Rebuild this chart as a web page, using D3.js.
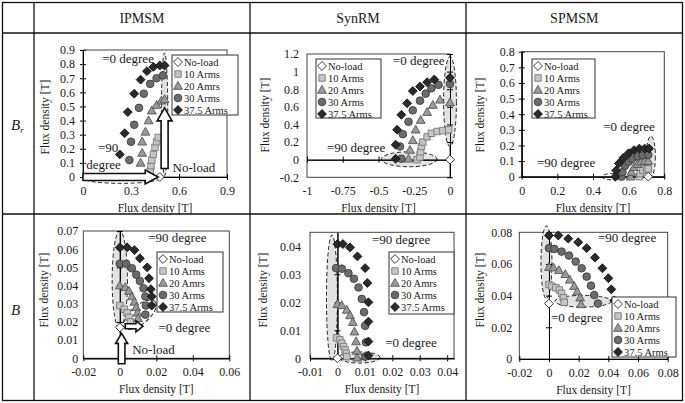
<!DOCTYPE html>
<html>
<head>
<meta charset="utf-8">
<script src="https://cdn.jsdelivr.net/npm/d3@7"></script>
<style>body{margin:0;background:#fff}</style>
</head>
<body>
<div id="chart"></div>
<script>
// ---- data ----
const columns = ["IPMSM", "SynRM", "SPMSM"];
const seriesNames = ["No-load", "10 Arms", "20 Amrs", "30 Arms", "37.5 Arms"];

// each panel: [No-load, 10 Arms, 20 Arms, 30 Arms, 37.5 Arms], points are [x, y] in T
const ipmsmBr = [
    [[0.48, 0]],
    [[0.42, 0.01], [0.42, 0.04], [0.425, 0.08], [0.43, 0.12], [0.44, 0.16], [0.45, 0.21], [0.46, 0.25], [0.47, 0.28]],
    [[0.36, 0.1], [0.37, 0.17], [0.37, 0.25], [0.39, 0.32], [0.41, 0.40], [0.43, 0.47], [0.46, 0.51], [0.49, 0.54], [0.51, 0.55]],
    [[0.29, 0.12], [0.30, 0.25], [0.32, 0.37], [0.35, 0.49], [0.38, 0.59], [0.42, 0.66], [0.46, 0.70], [0.50, 0.72]],
    [[0.23, 0.16], [0.26, 0.31], [0.28, 0.46], [0.32, 0.59], [0.36, 0.69], [0.40, 0.75], [0.44, 0.78], [0.48, 0.79], [0.51, 0.79]]
];
const synrmBr = [
    [[0, 0]],
    [[-0.23, 0], [-0.21, 0.03], [-0.205, 0.09], [-0.2, 0.15], [-0.19, 0.2], [-0.16, 0.26], [-0.13, 0.30], [-0.09, 0.32], [-0.05, 0.33], [-0.01, 0.34]],
    [[-0.29, 0.01], [-0.28, 0.11], [-0.26, 0.22], [-0.24, 0.34], [-0.205, 0.45], [-0.16, 0.54], [-0.12, 0.62], [-0.07, 0.68], [0, 0.65]],
    [[-0.34, 0.01], [-0.35, 0.15], [-0.33, 0.29], [-0.29, 0.43], [-0.26, 0.56], [-0.21, 0.67], [-0.17, 0.75], [-0.13, 0.81], [-0.08, 0.85], [0, 0.86]],
    [[-0.38, 0.01], [-0.38, 0.17], [-0.37, 0.34], [-0.34, 0.51], [-0.30, 0.64], [-0.26, 0.78], [-0.21, 0.83], [-0.16, 0.88], [-0.11, 0.91], [0, 0.93]]
];
const spmsmBr = [
    [[0.71, 0]],
    [[0.66, 0], [0.665, 0.02], [0.68, 0.04], [0.70, 0.05], [0.71, 0.05]],
    [[0.61, 0], [0.615, 0.03], [0.63, 0.06], [0.65, 0.08], [0.67, 0.095], [0.69, 0.10], [0.71, 0.10]],
    [[0.56, 0], [0.565, 0.03], [0.58, 0.07], [0.60, 0.095], [0.62, 0.115], [0.65, 0.13], [0.68, 0.137], [0.71, 0.14]],
    [[0.525, 0], [0.53, 0.04], [0.545, 0.085], [0.57, 0.12], [0.60, 0.15], [0.63, 0.17], [0.66, 0.18], [0.69, 0.18], [0.715, 0.18]]
];
const ipmsmB = [
    [[0, 0.017]],
    [[0, 0.029], [0.0025, 0.027], [0.004, 0.025], [0.005, 0.0225], [0.0058, 0.020]],
    [[0, 0.040], [0.003, 0.039], [0.005, 0.037], [0.0066, 0.034], [0.008, 0.031], [0.009, 0.028], [0.0097, 0.025], [0.010, 0.022]],
    [[0, 0.052], [0.0035, 0.052], [0.0066, 0.0495], [0.009, 0.046], [0.011, 0.0425], [0.013, 0.0385], [0.014, 0.034], [0.0143, 0.029], [0.014, 0.024]],
    [[0, 0.061], [0.004, 0.061], [0.008, 0.0595], [0.011, 0.055], [0.015, 0.050], [0.016, 0.044], [0.017, 0.038], [0.0175, 0.034], [0.0175, 0.029]]
];
const synrmB = [
    [[0, 0]],
    [[-0.0003, 0.0073], [0.0009, 0.0066], [0.0016, 0.0054], [0.0022, 0.0042], [0.0028, 0.003], [0.0032, 0.0018], [0.0034, 0.0006]],
    [[0, 0.0193], [0.0016, 0.0189], [0.0034, 0.0173], [0.0046, 0.0153], [0.0056, 0.0129], [0.0062, 0.0095], [0.0068, 0.006], [0.0071, 0.0026], [0.0072, 0.0002]],
    [[-0.0005, 0.0322], [0.0016, 0.032], [0.004, 0.0304], [0.006, 0.0284], [0.0077, 0.0253], [0.0089, 0.0212], [0.0097, 0.0165], [0.0101, 0.0116], [0.0104, 0.0057], [0.0101, 0.0006]],
    [[0, 0.0408], [0.002, 0.0408], [0.0046, 0.0396], [0.0073, 0.0364], [0.0101, 0.0322], [0.0109, 0.0269], [0.0113, 0.020], [0.0113, 0.0131], [0.0113, 0.006], [0.0113, 0.001]]
];
const spmsmB = [
    [[0, 0.035]],
    [[0, 0.047], [0.002, 0.046], [0.0047, 0.045], [0.007, 0.0436], [0.0085, 0.0415], [0.0097, 0.0387], [0.0103, 0.0358]],
    [[0, 0.058], [0.003, 0.0577], [0.0067, 0.056], [0.011, 0.0535], [0.014, 0.050], [0.017, 0.046], [0.019, 0.0425], [0.021, 0.0387], [0.0216, 0.0345]],
    [[0, 0.070], [0.0036, 0.0695], [0.0085, 0.0678], [0.0135, 0.0653], [0.018, 0.0615], [0.022, 0.0573], [0.0254, 0.052], [0.0283, 0.0463], [0.0305, 0.0404], [0.033, 0.035]],
    [[0, 0.078], [0.0063, 0.078], [0.013, 0.076], [0.0197, 0.0737], [0.0254, 0.070], [0.031, 0.064], [0.036, 0.0573], [0.040, 0.051], [0.042, 0.044], [0.044, 0.037]]
];

// tick labels
const ipmsmBrXTicks = [0, 0.3, 0.6, 0.9];
const ipmsmBrYTicks = [0, 0.1, 0.2, 0.3, 0.4, 0.5, 0.6, 0.7, 0.8, 0.9];
const synrmBrXTicks = [-1, -0.75, -0.5, -0.25, 0];
const synrmBrYTicks = [-0.2, 0, 0.2, 0.4, 0.6, 0.8, 1, 1.2];
const spmsmBrXTicks = [0, 0.2, 0.4, 0.6, 0.8];
const spmsmBrYTicks = [0, 0.1, 0.2, 0.3, 0.4, 0.5, 0.6, 0.7, 0.8];
const ipmsmBXTicks = [-0.02, 0, 0.02, 0.04, 0.06];
const ipmsmBYTicks = [0, 0.01, 0.02, 0.03, 0.04, 0.05, 0.06, 0.07];
const synrmBXTicks = [-0.01, 0, 0.01, 0.02, 0.03, 0.04];
const synrmBYTicks = [0, 0.01, 0.02, 0.03, 0.04];
const spmsmBXTicks = [-0.02, 0, 0.02, 0.04, 0.06, 0.08];
const spmsmBYTicks = [0, 0.02, 0.04, 0.06, 0.08];

const axisTitle = "Flux density [T]";

// ---- layout / style ----
const config = {
    width: 685,
    height: 403,
    font: "Liberation Serif, Times New Roman, DejaVu Serif, serif",
    textColor: "#1a1a1a",
    table: { x0: 2.5, x1: 682.5, y0: 2.5, y1: 400.5, colX: [34, 250, 466], rowY: [33, 214] },
    fills: ["#ffffff", "#c6c6c6", "#9a9a9a", "#6c6c6c", "#2a2a2a"],
    strokes: ["#222", "#777", "#555", "#3c3c3c", "#111"],
    shade: "#e2e2e2",
    legendFont: 10.5,
    legendStep: 12,
    xLabelPad: 9.5,
};

const panels = [
    {
        data: ipmsmBr, xDomain: [0, 0.9], yDomain: [0, 0.9], xTicks: ipmsmBrXTicks, yTicks: ipmsmBrYTicks,
        box: { left: 83, right: 227, top: 50, bottom: 177 }, yGap: 8, yTitle: [45, 117],
        legend: { x: 172, y: 55, w: 66, h: 60 },
        ellipses: [{ cx: 0.51, cy: 0.445, rx: 0.02, ry: 0.435, fill: true }, { cx: 0.24, cy: -0.01, rx: 0.24, ry: 0.035, fill: false }],
        arrows: [{ x1: 0, y1: 0, x2: 0.47, y2: 0, w: 3.5, hw: 7, hl: 13 }, { x1: 0.51, y1: 0.06, x2: 0.51, y2: 0.49, w: 3.5, hw: 7.5, hl: 13 }],
        notes: [{ x: 0.12, y: 0.81, t: "=0 degree" }, { x: 0.094, y: 0.175, t: "=90" }, { x: 0.02, y: 0.06, t: "degree" }, { x: 0.56, y: 0.035, t: "No-load" }]
    },
    {
        data: synrmBr, xDomain: [-1, 0], yDomain: [-0.2, 1.2], xTicks: synrmBrXTicks, yTicks: synrmBrYTicks,
        box: { left: 307, right: 450, top: 54, bottom: 177.3 }, yGap: 8, yTitle: [265, 115],
        legend: { x: 316, y: 59, w: 65, h: 59 },
        ellipses: [{ cx: 0, cy: 0.66, rx: 0.045, ry: 0.51, fill: true }, { cx: -0.285, cy: 0.005, rx: 0.195, ry: 0.085, fill: true }],
        arrows: [],
        notes: [{ x: -0.40, y: 1.075, t: "=0 degree" }, { x: -0.86, y: 0.09, t: "=90 degree" }]
    },
    {
        data: spmsmBr, xDomain: [0, 0.8], yDomain: [0, 0.8], xTicks: spmsmBrXTicks, yTicks: spmsmBrYTicks,
        box: { left: 521.7, right: 664.3, top: 51.7, bottom: 176.7 }, yGap: 7, yTitle: [480, 115],
        legend: { x: 532, y: 59, w: 63, h: 59 },
        ellipses: [{ cx: 0.725, cy: 0.13, rx: 0.025, ry: 0.13, fill: true }, { cx: 0.51, cy: 0, rx: 0.06, ry: 0.02, fill: false }],
        arrows: [],
        notes: [{ x: 0.457, y: 0.295, t: "=0 degree" }, { x: 0.086, y: 0.064, t: "=90 degree" }]
    },
    {
        data: ipmsmB, xDomain: [-0.02, 0.06], yDomain: [0, 0.07], xTicks: ipmsmBXTicks, yTicks: ipmsmBYTicks,
        box: { left: 83.3, right: 229.3, top: 231, bottom: 358.3 }, yGap: 5, yTitle: [44, 290],
        legend: { x: 157, y: 252, w: 66, h: 60 },
        ellipses: [{ cx: 0, cy: 0.043, rx: 0.0042, ry: 0.027, fill: true }, { cx: 0.011, cy: 0.024, rx: 0.011, ry: 0.005, rot: -40, fill: false }],
        arrows: [{ x1: 0.001, y1: -0.003, x2: 0.001, y2: 0.0137, w: 3.3, hw: 6, hl: 10 }, { x1: 0.003, y1: 0.0176, x2: 0.0127, y2: 0.0176, w: 2.5, hw: 5.5, hl: 7 }],
        notes: [{ x: 0.0156, y: 0.0638, t: "=90 degree" }, { x: 0.0212, y: 0.0143, t: "=0 degree" }, { x: 0.0068, y: 0.0022, t: "No-load" }]
    },
    {
        data: synrmB, xDomain: [-0.01, 0.0425], yDomain: [0, 0.045], xTicks: synrmBXTicks, yTicks: synrmBYTicks,
        box: { left: 310, right: 454, top: 232.3, bottom: 358.3 }, yGap: 9, yTitle: [263, 290],
        legend: { x: 389, y: 252, w: 65, h: 62 },
        ellipses: [{ cx: -0.002, cy: 0.0215, rx: 0.002, ry: 0.0225, fill: true }, { cx: 0.008, cy: 0.0003, rx: 0.0075, ry: 0.002, fill: true }],
        arrows: [],
        notes: [{ x: 0.0126, y: 0.0408, t: "=90 degree" }, { x: 0.0174, y: 0.0042, t: "=0 degree" }]
    },
    {
        data: spmsmB, xDomain: [-0.02, 0.08], yDomain: [0, 0.08], xTicks: spmsmBXTicks, yTicks: spmsmBYTicks,
        box: { left: 519.3, right: 667.7, top: 232.3, bottom: 359 }, yGap: 7, yTitle: [480, 290],
        legend: { x: 612, y: 297, w: 64, h: 60 },
        ellipses: [{ cx: -0.0017, cy: 0.061, rx: 0.0037, ry: 0.023, fill: true }, { cx: 0.023, cy: 0.0365, rx: 0.019, ry: 0.0037, fill: true }],
        arrows: [],
        notes: [{ x: 0.033, y: 0.0737, t: "=90 degree" }, { x: 0.0013, y: 0.0236, t: "=0 degree" }]
    }
];

const svg = d3.select("#chart")
    .append("svg")
    .attr("width", config.width)
    .attr("height", config.height)
    .attr("font-family", config.font)
    .attr("fill", config.textColor);

// marker shapes
const diamond = {
    draw(ctx, size) {
        const r = Math.sqrt(size) * 0.72;
        ctx.moveTo(0, -r); ctx.lineTo(r, 0); ctx.lineTo(0, r); ctx.lineTo(-r, 0); ctx.closePath();
    }
};
const triangle = {
    draw(ctx, size) {
        const r = Math.sqrt(size) * 0.62;
        ctx.moveTo(0, -r * 1.05); ctx.lineTo(r, r * 0.75); ctx.lineTo(-r, r * 0.75); ctx.closePath();
    }
};
const symbolTypes = [diamond, d3.symbolSquare, triangle, d3.symbolCircle, diamond];
const symbolSizes = [38, 42, 50, 46, 38];
const marker = (i) => d3.symbol().type(symbolTypes[i]).size(symbolSizes[i])();

// ---- table ----
const t = config.table;
const grid = svg.append("g").attr("stroke", "#111").attr("stroke-width", 1.3).attr("fill", "none");
grid.append("rect").attr("x", t.x0).attr("y", t.y0).attr("width", t.x1 - t.x0).attr("height", t.y1 - t.y0);
t.colX.forEach(cx => grid.append("line").attr("x1", cx).attr("x2", cx).attr("y1", t.y0).attr("y2", t.y1));
t.rowY.forEach(ry => grid.append("line").attr("x1", t.x0).attr("x2", t.x1).attr("y1", ry).attr("y2", ry));

const colEdges = [...t.colX, t.x1];
columns.forEach((c, i) => {
    svg.append("text")
        .attr("x", (colEdges[i] + colEdges[i + 1]) / 2)
        .attr("y", 23)
        .attr("text-anchor", "middle")
        .attr("font-size", 14)
        .text(c);
});
const brLabel = svg.append("text").attr("x", 11).attr("y", 130).attr("font-size", 15).attr("font-style", "italic");
brLabel.append("tspan").text("B");
brLabel.append("tspan").attr("font-size", 9).attr("dy", 3).text("r");
svg.append("text").attr("x", 11).attr("y", 315).attr("font-size", 15).attr("font-style", "italic").text("B");

// hollow block arrow
function arrowPath(a, x, y) {
    const sx = x(a.x1), sy = y(a.y1), ex = x(a.x2), ey = y(a.y2);
    const len = Math.hypot(ex - sx, ey - sy);
    const ux = (ex - sx) / len, uy = (ey - sy) / len;
    const nx = -uy, ny = ux;
    const bx = ex - ux * a.hl, by = ey - uy * a.hl;
    const p = d3.path();
    p.moveTo(sx + nx * a.w, sy + ny * a.w);
    p.lineTo(bx + nx * a.w, by + ny * a.w);
    p.lineTo(bx + nx * a.hw, by + ny * a.hw);
    p.lineTo(ex, ey);
    p.lineTo(bx - nx * a.hw, by - ny * a.hw);
    p.lineTo(bx - nx * a.w, by - ny * a.w);
    p.lineTo(sx - nx * a.w, sy - ny * a.w);
    p.closePath();
    return p.toString();
}

function drawPanel(p) {
    const b = p.box;
    const x = d3.scaleLinear().domain(p.xDomain).range([b.left, b.right]);
    const y = d3.scaleLinear().domain(p.yDomain).range([b.bottom, b.top]);
    const g = svg.append("g");

    g.append("rect")
        .attr("x", b.left).attr("y", b.top)
        .attr("width", b.right - b.left).attr("height", b.bottom - b.top)
        .attr("fill", "#fff").attr("stroke", "#444").attr("stroke-width", 1);

    // shaded regions
    g.selectAll(".ell")
        .data(p.ellipses)
        .join("ellipse")
        .attr("cx", d => x(d.cx))
        .attr("cy", d => y(d.cy))
        .attr("rx", d => Math.abs(x(d.cx + d.rx) - x(d.cx)))
        .attr("ry", d => Math.abs(y(d.cy + d.ry) - y(d.cy)))
        .attr("transform", d => d.rot ? `rotate(${d.rot},${x(d.cx)},${y(d.cy)})` : null)
        .attr("fill", d => d.fill ? config.shade : "none")
        .attr("stroke", "#222")
        .attr("stroke-dasharray", "4,2.5")
        .attr("stroke-width", 1);

    // axis lines through zero with crossing ticks
    const xAt = y(0), yAt = x(0);
    [d3.axisTop, d3.axisBottom].forEach(ax => {
        g.append("g").attr("transform", `translate(0,${xAt})`)
            .call(ax(x).tickValues(p.xTicks).tickSizeInner(3).tickSizeOuter(0).tickFormat(""));
    });
    [d3.axisLeft, d3.axisRight].forEach(ax => {
        g.append("g").attr("transform", `translate(${yAt},0)`)
            .call(ax(y).tickValues(p.yTicks).tickSizeInner(3).tickSizeOuter(0).tickFormat(""));
    });

    // tick labels at the low side
    const yLab = g.append("g").attr("transform", `translate(${b.left},0)`)
        .call(d3.axisLeft(y).tickValues(p.yTicks).tickSize(0).tickPadding(p.yGap).tickFormat(d => String(d)));
    const xLab = g.append("g").attr("transform", `translate(0,${b.bottom})`)
        .call(d3.axisBottom(x).tickValues(p.xTicks).tickSize(0).tickPadding(config.xLabelPad).tickFormat(d => String(d)));
    [yLab, xLab].forEach(s => {
        s.select(".domain").remove();
        s.attr("font-family", config.font).attr("font-size", 12);
        s.selectAll("text").attr("fill", config.textColor);
    });

    g.append("text")
        .attr("x", (b.left + b.right) / 2).attr("y", b.bottom + 35)
        .attr("text-anchor", "middle").attr("font-size", 11.5).text(axisTitle);
    g.append("text")
        .attr("transform", `translate(${p.yTitle[0]},${p.yTitle[1]}) rotate(-90)`)
        .attr("text-anchor", "middle").attr("dy", "0.35em").attr("font-size", 11.5).text(axisTitle);

    // series, no-load drawn last
    [1, 2, 3, 4, 0].forEach(i => {
        g.append("g").selectAll("path")
            .data(p.data[i])
            .join("path")
            .attr("d", marker(i))
            .attr("transform", d => `translate(${x(d[0])},${y(d[1])})`)
            .attr("fill", config.fills[i])
            .attr("stroke", config.strokes[i])
            .attr("stroke-width", 0.9);
    });

    g.selectAll(".arrow")
        .data(p.arrows)
        .join("path")
        .attr("d", d => arrowPath(d, x, y))
        .attr("fill", "#fff").attr("stroke", "#111").attr("stroke-width", 1.6);

    g.selectAll(".note")
        .data(p.notes)
        .join("text")
        .attr("x", d => x(d.x)).attr("y", d => y(d.y))
        .attr("font-size", 13)
        .text(d => d.t);

    // legend
    const L = p.legend;
    const lg = g.append("g").attr("transform", `translate(${L.x},${L.y})`);
    lg.append("rect").attr("width", L.w).attr("height", L.h)
        .attr("fill", "#fff").attr("stroke", "#333").attr("stroke-width", 1);
    const rows = lg.selectAll(".row").data(seriesNames).join("g")
        .attr("transform", (d, i) => `translate(6,${7 + i * config.legendStep})`);
    rows.append("path")
        .attr("d", (d, i) => marker(i))
        .attr("fill", (d, i) => config.fills[i])
        .attr("stroke", (d, i) => config.strokes[i])
        .attr("stroke-width", 0.9);
    rows.append("text")
        .attr("x", 6).attr("dy", "0.35em")
        .attr("font-size", config.legendFont)
        .text(d => d);
}

panels.forEach(drawPanel);
</script>
</body>
</html>
